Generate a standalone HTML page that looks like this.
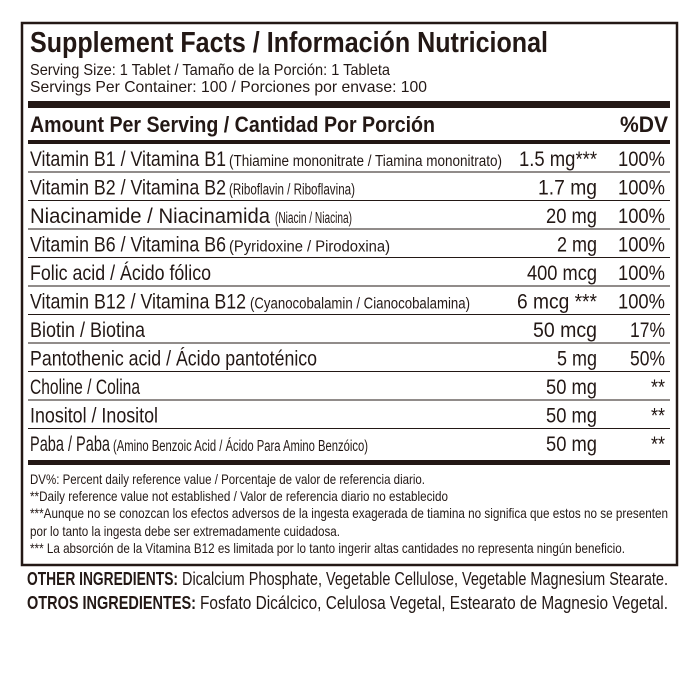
<!DOCTYPE html>
<html><head><meta charset="utf-8"><style>
html,body{margin:0;padding:0;background:#fff;width:700px;height:700px;overflow:hidden}
svg{display:block}
text{font-family:"Liberation Sans",sans-serif;fill:#231815}
.b{font-weight:bold}
</style></head><body>
<svg width="700" height="700" viewBox="0 0 700 700" xmlns="http://www.w3.org/2000/svg">
<rect x="22" y="23" width="655" height="542" fill="none" stroke="#231815" stroke-width="2.5"/>
<text class="b" x="30" y="52" font-size="29" textLength="518" lengthAdjust="spacingAndGlyphs">Supplement Facts / Información Nutricional</text>
<text x="30" y="75" font-size="16" textLength="360" lengthAdjust="spacingAndGlyphs">Serving Size: 1 Tablet / Tamaño de la Porción: 1 Tableta</text>
<text x="30" y="92" font-size="16" textLength="397" lengthAdjust="spacingAndGlyphs">Servings Per Container: 100 / Porciones por envase: 100</text>
<rect x="28" y="101" width="642" height="7" fill="#231815"/>
<text class="b" x="30" y="132" font-size="22" textLength="405" lengthAdjust="spacingAndGlyphs">Amount Per Serving / Cantidad Por Porción</text>
<text class="b" x="620" y="132" font-size="22" textLength="48" lengthAdjust="spacingAndGlyphs">%DV</text>
<rect x="28" y="140" width="642" height="4" fill="#231815"/>
<g stroke="#231815" stroke-width="1">
<line x1="28" x2="670" y1="172" y2="172"/><line x1="28" x2="670" y1="200.5" y2="200.5"/>
<line x1="28" x2="670" y1="229" y2="229"/><line x1="28" x2="670" y1="257.5" y2="257.5"/>
<line x1="28" x2="670" y1="286" y2="286"/><line x1="28" x2="670" y1="314.5" y2="314.5"/>
<line x1="28" x2="670" y1="343" y2="343"/><line x1="28" x2="670" y1="371.5" y2="371.5"/>
<line x1="28" x2="670" y1="400" y2="400"/><line x1="28" x2="670" y1="428.5" y2="428.5"/>
</g>
<g font-size="21">
<text x="30" y="166" textLength="196" lengthAdjust="spacingAndGlyphs">Vitamin B1 / Vitamina B1</text>
<text x="229" y="166" font-size="15.5" textLength="273" lengthAdjust="spacingAndGlyphs">(Thiamine mononitrate / Tiamina mononitrato)</text>
<text x="30" y="194.5" textLength="196" lengthAdjust="spacingAndGlyphs">Vitamin B2 / Vitamina B2</text>
<text x="229" y="194.5" font-size="15.5" textLength="126" lengthAdjust="spacingAndGlyphs">(Riboflavin / Riboflavina)</text>
<text x="30" y="223" textLength="240" lengthAdjust="spacingAndGlyphs">Niacinamide / Niacinamida</text>
<text x="275" y="223" font-size="15.5" textLength="77" lengthAdjust="spacingAndGlyphs">(Niacin / Niacina)</text>
<text x="30" y="251.5" textLength="196" lengthAdjust="spacingAndGlyphs">Vitamin B6 / Vitamina B6</text>
<text x="229" y="251.5" font-size="15.5" textLength="161" lengthAdjust="spacingAndGlyphs">(Pyridoxine / Pirodoxina)</text>
<text x="30" y="280" textLength="181" lengthAdjust="spacingAndGlyphs">Folic acid / Ácido fólico</text>
<text x="30" y="308.5" textLength="216" lengthAdjust="spacingAndGlyphs">Vitamin B12 / Vitamina B12</text>
<text x="250" y="308.5" font-size="15.5" textLength="220" lengthAdjust="spacingAndGlyphs">(Cyanocobalamin / Cianocobalamina)</text>
<text x="30" y="337" textLength="115" lengthAdjust="spacingAndGlyphs">Biotin / Biotina</text>
<text x="30" y="365.5" textLength="287" lengthAdjust="spacingAndGlyphs">Pantothenic acid / Ácido pantoténico</text>
<text x="30" y="394" textLength="110" lengthAdjust="spacingAndGlyphs">Choline / Colina</text>
<text x="30" y="422.5" textLength="128" lengthAdjust="spacingAndGlyphs">Inositol / Inositol</text>
<text x="30" y="451" textLength="80" lengthAdjust="spacingAndGlyphs">Paba / Paba</text>
<text x="113" y="451" font-size="15.5" textLength="255" lengthAdjust="spacingAndGlyphs">(Amino Benzoic Acid / Ácido Para Amino Benzóico)</text>
<g text-anchor="end">
<text x="597" y="166" textLength="78" lengthAdjust="spacingAndGlyphs">1.5 mg***</text>
<text x="597" y="194.5" textLength="59" lengthAdjust="spacingAndGlyphs">1.7 mg</text>
<text x="597" y="223" textLength="51" lengthAdjust="spacingAndGlyphs">20 mg</text>
<text x="597" y="251.5" textLength="40" lengthAdjust="spacingAndGlyphs">2 mg</text>
<text x="597" y="280" textLength="70" lengthAdjust="spacingAndGlyphs">400 mcg</text>
<text x="597" y="308.5" textLength="80" lengthAdjust="spacingAndGlyphs">6 mcg ***</text>
<text x="597" y="337" textLength="64" lengthAdjust="spacingAndGlyphs">50 mcg</text>
<text x="597" y="365.5" textLength="40" lengthAdjust="spacingAndGlyphs">5 mg</text>
<text x="597" y="394" textLength="51" lengthAdjust="spacingAndGlyphs">50 mg</text>
<text x="597" y="422.5" textLength="51" lengthAdjust="spacingAndGlyphs">50 mg</text>
<text x="597" y="451" textLength="51" lengthAdjust="spacingAndGlyphs">50 mg</text>
<text x="665" y="166" textLength="47" lengthAdjust="spacingAndGlyphs">100%</text>
<text x="665" y="194.5" textLength="47" lengthAdjust="spacingAndGlyphs">100%</text>
<text x="665" y="223" textLength="47" lengthAdjust="spacingAndGlyphs">100%</text>
<text x="665" y="251.5" textLength="47" lengthAdjust="spacingAndGlyphs">100%</text>
<text x="665" y="280" textLength="47" lengthAdjust="spacingAndGlyphs">100%</text>
<text x="665" y="308.5" textLength="47" lengthAdjust="spacingAndGlyphs">100%</text>
<text x="665" y="337" textLength="35" lengthAdjust="spacingAndGlyphs">17%</text>
<text x="665" y="365.5" textLength="35" lengthAdjust="spacingAndGlyphs">50%</text>
<text x="665" y="394" textLength="14" lengthAdjust="spacingAndGlyphs">**</text>
<text x="665" y="422.5" textLength="14" lengthAdjust="spacingAndGlyphs">**</text>
<text x="665" y="451" textLength="14" lengthAdjust="spacingAndGlyphs">**</text>
</g>
</g>
<rect x="28" y="460" width="642" height="5" fill="#231815"/>
<g font-size="14">
<text x="30" y="484" textLength="395" lengthAdjust="spacingAndGlyphs">DV%: Percent daily reference value / Porcentaje de valor de referencia diario.</text>
<text x="30" y="501" textLength="418" lengthAdjust="spacingAndGlyphs">**Daily reference value not established /  Valor de referencia diario no establecido</text>
<text x="30" y="518" textLength="638" lengthAdjust="spacingAndGlyphs">***Aunque no se conozcan los efectos adversos de la ingesta exagerada de tiamina no significa que estos no se presenten</text>
<text x="30" y="536" textLength="310" lengthAdjust="spacingAndGlyphs">por lo tanto la ingesta debe ser extremadamente cuidadosa.</text>
<text x="30" y="553" textLength="595" lengthAdjust="spacingAndGlyphs">*** La absorción de la Vitamina B12 es limitada por lo tanto ingerir altas cantidades no representa ningún beneficio.</text>
</g>
<g font-size="18.5">
<text class="b" x="27" y="585" textLength="151" lengthAdjust="spacingAndGlyphs">OTHER INGREDIENTS:</text>
<text x="182" y="585" textLength="486" lengthAdjust="spacingAndGlyphs">Dicalcium Phosphate, Vegetable Cellulose, Vegetable Magnesium Stearate.</text>
<text class="b" x="27" y="609" textLength="169" lengthAdjust="spacingAndGlyphs">OTROS INGREDIENTES:</text>
<text x="200" y="609" textLength="468" lengthAdjust="spacingAndGlyphs">Fosfato Dicálcico, Celulosa Vegetal, Estearato de Magnesio Vegetal.</text>
</g>
</svg>
</body></html>
